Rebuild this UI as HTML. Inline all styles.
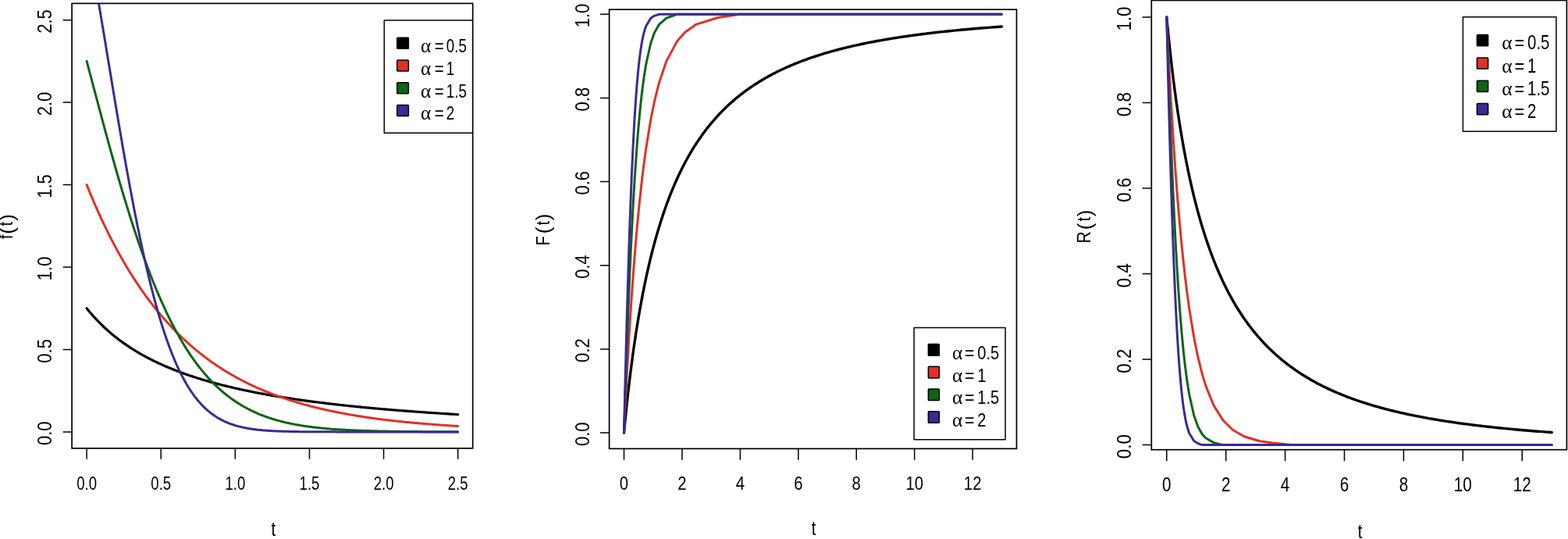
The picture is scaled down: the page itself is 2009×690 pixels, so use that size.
<!DOCTYPE html>
<html lang="en"><head><meta charset="utf-8"><title>f(t), F(t), R(t)</title>
<style>html,body{margin:0;padding:0;background:#fff;overflow:hidden}svg{display:block}text{font-family:'Liberation Sans', 'DejaVu Sans', sans-serif;fill:#000;white-space:pre}</style>
</head><body>
<svg width="2009" height="690" viewBox="0 0 2009 690">
<rect width="2009" height="690" fill="#fff"/>
<g>
<clipPath id="c1"><rect x="92.1" y="4.4" width="513.6" height="569.5"/></clipPath>
<g clip-path="url(#c1)" fill="none" stroke-linejoin="round" stroke-linecap="round">
<polyline stroke="#000000" stroke-width="3.2" points="111.1,394.72 112.93,396.98 114.76,399.18 116.59,401.32 118.42,403.41 120.25,405.46 122.08,407.45 123.9,409.4 125.73,411.3 127.56,413.16 129.39,414.98 131.22,416.76 133.05,418.5 134.88,420.21 136.71,421.87 138.54,423.5 140.37,425.1 142.2,426.66 144.03,428.19 145.86,429.69 147.68,431.16 149.51,432.6 151.34,434.01 153.17,435.4 155,436.76 156.83,438.09 158.66,439.39 160.49,440.67 162.32,441.93 164.15,443.16 165.98,444.38 167.81,445.56 169.64,446.73 171.46,447.88 173.29,449.01 175.12,450.11 176.95,451.2 178.78,452.27 180.61,453.32 182.44,454.35 184.27,455.37 186.1,456.36 187.93,457.34 189.76,458.31 191.59,459.26 193.42,460.19 195.24,461.11 197.07,462.01 198.9,462.9 200.73,463.78 202.56,464.64 204.39,465.49 206.22,466.32 208.05,467.15 209.88,467.96 211.71,468.75 213.54,469.54 215.37,470.31 217.2,471.08 219.02,471.83 220.85,472.57 222.68,473.3 224.51,474.02 226.34,474.72 228.17,475.42 230,476.11 231.83,476.79 233.66,477.46 235.49,478.12 237.32,478.77 239.15,479.41 240.98,480.05 242.8,480.67 244.63,481.29 246.46,481.89 248.29,482.49 250.12,483.09 251.95,483.67 253.78,484.25 255.61,484.81 257.44,485.38 259.27,485.93 261.1,486.48 262.93,487.02 264.76,487.55 266.58,488.08 268.41,488.6 270.24,489.11 272.07,489.62 273.9,490.12 275.73,490.61 277.56,491.1 279.39,491.59 281.22,492.06 283.05,492.53 284.88,493 286.71,493.46 288.54,493.91 290.36,494.36 292.19,494.81 294.02,495.25 295.85,495.68 297.68,496.11 299.51,496.53 301.34,496.95 303.17,497.37 305,497.78 306.83,498.18 308.66,498.58 310.49,498.98 312.32,499.37 314.14,499.76 315.97,500.14 317.8,500.52 319.63,500.89 321.46,501.26 323.29,501.63 325.12,501.99 326.95,502.35 328.78,502.7 330.61,503.06 332.44,503.4 334.27,503.75 336.1,504.09 337.92,504.42 339.75,504.76 341.58,505.09 343.41,505.41 345.24,505.73 347.07,506.05 348.9,506.37 350.73,506.68 352.56,506.99 354.39,507.3 356.22,507.6 358.05,507.9 359.88,508.2 361.7,508.5 363.53,508.79 365.36,509.08 367.19,509.36 369.02,509.65 370.85,509.93 372.68,510.2 374.51,510.48 376.34,510.75 378.17,511.02 380,511.29 381.83,511.55 383.66,511.82 385.48,512.08 387.31,512.33 389.14,512.59 390.97,512.84 392.8,513.09 394.63,513.34 396.46,513.59 398.29,513.83 400.12,514.07 401.95,514.31 403.78,514.55 405.61,514.78 407.44,515.01 409.26,515.24 411.09,515.47 412.92,515.7 414.75,515.92 416.58,516.14 418.41,516.36 420.24,516.58 422.07,516.8 423.9,517.01 425.73,517.23 427.56,517.44 429.39,517.65 431.22,517.85 433.04,518.06 434.87,518.26 436.7,518.47 438.53,518.67 440.36,518.86 442.19,519.06 444.02,519.26 445.85,519.45 447.68,519.64 449.51,519.83 451.34,520.02 453.17,520.21 455,520.39 456.82,520.58 458.65,520.76 460.48,520.94 462.31,521.12 464.14,521.3 465.97,521.48 467.8,521.65 469.63,521.82 471.46,522 473.29,522.17 475.12,522.34 476.95,522.51 478.78,522.67 480.6,522.84 482.43,523 484.26,523.17 486.09,523.33 487.92,523.49 489.75,523.65 491.58,523.81 493.41,523.96 495.24,524.12 497.07,524.27 498.9,524.43 500.73,524.58 502.56,524.73 504.38,524.88 506.21,525.03 508.04,525.17 509.87,525.32 511.7,525.46 513.53,525.61 515.36,525.75 517.19,525.89 519.02,526.03 520.85,526.17 522.68,526.31 524.51,526.45 526.34,526.59 528.16,526.72 529.99,526.86 531.82,526.99 533.65,527.12 535.48,527.26 537.31,527.39 539.14,527.52 540.97,527.65 542.8,527.77 544.63,527.9 546.46,528.03 548.29,528.15 550.12,528.28 551.94,528.4 553.77,528.52 555.6,528.64 557.43,528.76 559.26,528.88 561.09,529 562.92,529.12 564.75,529.24 566.58,529.36 568.41,529.47 570.24,529.59 572.07,529.7 573.9,529.81 575.72,529.93 577.55,530.04 579.38,530.15 581.21,530.26 583.04,530.37 584.87,530.48 586.7,530.59"/>
<polyline stroke="#E03127" stroke-width="3" points="111.1,236.55 112.93,241.08 114.76,245.55 116.59,249.95 118.42,254.28 120.25,258.56 122.08,262.78 123.9,266.93 125.73,271.02 127.56,275.06 129.39,279.04 131.22,282.96 133.05,286.83 134.88,290.64 136.71,294.39 138.54,298.09 140.37,301.74 142.2,305.34 144.03,308.88 145.86,312.38 147.68,315.82 149.51,319.22 151.34,322.56 153.17,325.86 155,329.11 156.83,332.32 158.66,335.48 160.49,338.59 162.32,341.66 164.15,344.68 165.98,347.66 167.81,350.6 169.64,353.5 171.46,356.36 173.29,359.17 175.12,361.94 176.95,364.68 178.78,367.37 180.61,370.03 182.44,372.65 184.27,375.23 186.1,377.77 187.93,380.28 189.76,382.75 191.59,385.19 193.42,387.59 195.24,389.96 197.07,392.29 198.9,394.59 200.73,396.86 202.56,399.09 204.39,401.3 206.22,403.47 208.05,405.61 209.88,407.72 211.71,409.79 213.54,411.84 215.37,413.86 217.2,415.85 219.02,417.82 220.85,419.75 222.68,421.66 224.51,423.54 226.34,425.39 228.17,427.22 230,429.02 231.83,430.79 233.66,432.54 235.49,434.26 237.32,435.96 239.15,437.64 240.98,439.29 242.8,440.91 244.63,442.52 246.46,444.1 248.29,445.65 250.12,447.19 251.95,448.7 253.78,450.2 255.61,451.67 257.44,453.12 259.27,454.55 261.1,455.95 262.93,457.34 264.76,458.71 266.58,460.06 268.41,461.39 270.24,462.7 272.07,463.99 273.9,465.26 275.73,466.52 277.56,467.76 279.39,468.97 281.22,470.18 283.05,471.36 284.88,472.53 286.71,473.68 288.54,474.81 290.36,475.93 292.19,477.03 294.02,478.12 295.85,479.19 297.68,480.25 299.51,481.29 301.34,482.31 303.17,483.32 305,484.32 306.83,485.3 308.66,486.27 310.49,487.22 312.32,488.16 314.14,489.09 315.97,490.01 317.8,490.91 319.63,491.79 321.46,492.67 323.29,493.53 325.12,494.38 326.95,495.22 328.78,496.05 330.61,496.86 332.44,497.66 334.27,498.45 336.1,499.23 337.92,500 339.75,500.76 341.58,501.5 343.41,502.24 345.24,502.97 347.07,503.68 348.9,504.39 350.73,505.08 352.56,505.77 354.39,506.44 356.22,507.11 358.05,507.76 359.88,508.41 361.7,509.05 363.53,509.67 365.36,510.29 367.19,510.9 369.02,511.5 370.85,512.1 372.68,512.68 374.51,513.26 376.34,513.82 378.17,514.38 380,514.94 381.83,515.48 383.66,516.01 385.48,516.54 387.31,517.06 389.14,517.58 390.97,518.08 392.8,518.58 394.63,519.07 396.46,519.56 398.29,520.03 400.12,520.51 401.95,520.97 403.78,521.43 405.61,521.88 407.44,522.32 409.26,522.76 411.09,523.19 412.92,523.62 414.75,524.04 416.58,524.45 418.41,524.86 420.24,525.26 422.07,525.65 423.9,526.04 425.73,526.43 427.56,526.81 429.39,527.18 431.22,527.55 433.04,527.91 434.87,528.27 436.7,528.62 438.53,528.97 440.36,529.31 442.19,529.65 444.02,529.98 445.85,530.31 447.68,530.64 449.51,530.95 451.34,531.27 453.17,531.58 455,531.88 456.82,532.18 458.65,532.48 460.48,532.77 462.31,533.06 464.14,533.35 465.97,533.63 467.8,533.9 469.63,534.17 471.46,534.44 473.29,534.71 475.12,534.97 476.95,535.22 478.78,535.48 480.6,535.73 482.43,535.97 484.26,536.21 486.09,536.45 487.92,536.69 489.75,536.92 491.58,537.15 493.41,537.38 495.24,537.6 497.07,537.82 498.9,538.03 500.73,538.25 502.56,538.46 504.38,538.66 506.21,538.87 508.04,539.07 509.87,539.27 511.7,539.46 513.53,539.65 515.36,539.84 517.19,540.03 519.02,540.21 520.85,540.4 522.68,540.57 524.51,540.75 526.34,540.93 528.16,541.1 529.99,541.27 531.82,541.43 533.65,541.6 535.48,541.76 537.31,541.92 539.14,542.08 540.97,542.23 542.8,542.38 544.63,542.53 546.46,542.68 548.29,542.83 550.12,542.97 551.94,543.11 553.77,543.25 555.6,543.39 557.43,543.53 559.26,543.66 561.09,543.8 562.92,543.93 564.75,544.05 566.58,544.18 568.41,544.31 570.24,544.43 572.07,544.55 573.9,544.67 575.72,544.79 577.55,544.9 579.38,545.02 581.21,545.13 583.04,545.24 584.87,545.35 586.7,545.46"/>
<polyline stroke="#0A6515" stroke-width="3" points="111.1,78.37 112.93,85.23 114.76,92.1 116.59,98.99 118.42,105.89 120.25,112.79 122.08,119.68 123.9,126.57 125.73,133.45 127.56,140.32 129.39,147.16 131.22,153.98 133.05,160.77 134.88,167.53 136.71,174.26 138.54,180.95 140.37,187.6 142.2,194.21 144.03,200.76 145.86,207.27 147.68,213.73 149.51,220.13 151.34,226.48 153.17,232.77 155,239 156.83,245.16 158.66,251.27 160.49,257.3 162.32,263.27 164.15,269.18 165.98,275.01 167.81,280.77 169.64,286.46 171.46,292.08 173.29,297.62 175.12,303.09 176.95,308.49 178.78,313.81 180.61,319.05 182.44,324.22 184.27,329.31 186.1,334.32 187.93,339.26 189.76,344.12 191.59,348.9 193.42,353.6 195.24,358.23 197.07,362.78 198.9,367.25 200.73,371.65 202.56,375.96 204.39,380.21 206.22,384.37 208.05,388.47 209.88,392.48 211.71,396.42 213.54,400.29 215.37,404.08 217.2,407.8 219.02,411.45 220.85,415.03 222.68,418.53 224.51,421.97 226.34,425.33 228.17,428.63 230,431.86 231.83,435.02 233.66,438.11 235.49,441.14 237.32,444.11 239.15,447.01 240.98,449.84 242.8,452.62 244.63,455.33 246.46,457.98 248.29,460.57 250.12,463.1 251.95,465.58 253.78,468 255.61,470.36 257.44,472.66 259.27,474.92 261.1,477.12 262.93,479.26 264.76,481.36 266.58,483.4 268.41,485.39 270.24,487.34 272.07,489.23 273.9,491.08 275.73,492.88 277.56,494.64 279.39,496.35 281.22,498.02 283.05,499.65 284.88,501.23 286.71,502.78 288.54,504.28 290.36,505.74 292.19,507.17 294.02,508.56 295.85,509.91 297.68,511.22 299.51,512.5 301.34,513.74 303.17,514.95 305,516.13 306.83,517.27 308.66,518.38 310.49,519.47 312.32,520.52 314.14,521.54 315.97,522.53 317.8,523.5 319.63,524.43 321.46,525.34 323.29,526.23 325.12,527.09 326.95,527.92 328.78,528.73 330.61,529.52 332.44,530.28 334.27,531.02 336.1,531.74 337.92,532.44 339.75,533.11 341.58,533.77 343.41,534.4 345.24,535.02 347.07,535.62 348.9,536.2 350.73,536.76 352.56,537.3 354.39,537.83 356.22,538.34 358.05,538.84 359.88,539.32 361.7,539.78 363.53,540.24 365.36,540.67 367.19,541.09 369.02,541.5 370.85,541.9 372.68,542.28 374.51,542.65 376.34,543.01 378.17,543.36 380,543.7 381.83,544.02 383.66,544.33 385.48,544.64 387.31,544.93 389.14,545.22 390.97,545.49 392.8,545.76 394.63,546.01 396.46,546.26 398.29,546.5 400.12,546.74 401.95,546.96 403.78,547.18 405.61,547.38 407.44,547.59 409.26,547.78 411.09,547.97 412.92,548.15 414.75,548.33 416.58,548.5 418.41,548.66 420.24,548.82 422.07,548.97 423.9,549.12 425.73,549.26 427.56,549.4 429.39,549.53 431.22,549.66 433.04,549.78 434.87,549.9 436.7,550.01 438.53,550.12 440.36,550.23 442.19,550.33 444.02,550.43 445.85,550.52 447.68,550.62 449.51,550.7 451.34,550.79 453.17,550.87 455,550.95 456.82,551.03 458.65,551.1 460.48,551.17 462.31,551.24 464.14,551.3 465.97,551.37 467.8,551.43 469.63,551.49 471.46,551.54 473.29,551.6 475.12,551.65 476.95,551.7 478.78,551.75 480.6,551.79 482.43,551.84 484.26,551.88 486.09,551.92 487.92,551.96 489.75,552 491.58,552.03 493.41,552.07 495.24,552.1 497.07,552.14 498.9,552.17 500.73,552.2 502.56,552.23 504.38,552.25 506.21,552.28 508.04,552.31 509.87,552.33 511.7,552.35 513.53,552.38 515.36,552.4 517.19,552.42 519.02,552.44 520.85,552.46 522.68,552.48 524.51,552.5 526.34,552.51 528.16,552.53 529.99,552.54 531.82,552.56 533.65,552.57 535.48,552.59 537.31,552.6 539.14,552.61 540.97,552.63 542.8,552.64 544.63,552.65 546.46,552.66 548.29,552.67 550.12,552.68 551.94,552.69 553.77,552.7 555.6,552.71 557.43,552.72 559.26,552.72 561.09,552.73 562.92,552.74 564.75,552.75 566.58,552.75 568.41,552.76 570.24,552.77 572.07,552.77 573.9,552.78 575.72,552.78 577.55,552.79 579.38,552.79 581.21,552.8 583.04,552.8 584.87,552.81 586.7,552.81"/>
<polyline stroke="#3B2A94" stroke-width="3" points="111.1,-79.8 112.93,-70.55 114.76,-61.05 116.59,-51.32 118.42,-41.39 120.25,-31.27 122.08,-20.98 123.9,-10.54 125.73,0.04 127.56,10.73 129.39,21.53 131.22,32.41 133.05,43.36 134.88,54.36 136.71,65.4 138.54,76.46 140.37,87.53 142.2,98.59 144.03,109.63 145.86,120.65 147.68,131.61 149.51,142.53 151.34,153.37 153.17,164.14 155,174.82 156.83,185.4 158.66,195.87 160.49,206.22 162.32,216.46 164.15,226.56 165.98,236.52 167.81,246.34 169.64,256 171.46,265.51 173.29,274.85 175.12,284.03 176.95,293.04 178.78,301.87 180.61,310.53 182.44,319 184.27,327.3 186.1,335.4 187.93,343.32 189.76,351.05 191.59,358.59 193.42,365.95 195.24,373.11 197.07,380.08 198.9,386.87 200.73,393.46 202.56,399.87 204.39,406.09 206.22,412.13 208.05,417.99 209.88,423.66 211.71,429.16 213.54,434.47 215.37,439.62 217.2,444.59 219.02,449.39 220.85,454.03 222.68,458.5 224.51,462.82 226.34,466.98 228.17,470.98 230,474.84 231.83,478.55 233.66,482.11 235.49,485.54 237.32,488.83 239.15,491.99 240.98,495.02 242.8,497.93 244.63,500.71 246.46,503.37 248.29,505.93 250.12,508.37 251.95,510.7 253.78,512.93 255.61,515.06 257.44,517.09 259.27,519.03 261.1,520.88 262.93,522.64 264.76,524.32 266.58,525.92 268.41,527.43 270.24,528.88 272.07,530.25 273.9,531.56 275.73,532.8 277.56,533.97 279.39,535.09 281.22,536.14 283.05,537.14 284.88,538.09 286.71,538.99 288.54,539.84 290.36,540.64 292.19,541.4 294.02,542.12 295.85,542.79 297.68,543.43 299.51,544.03 301.34,544.6 303.17,545.13 305,545.64 306.83,546.11 308.66,546.56 310.49,546.98 312.32,547.37 314.14,547.74 315.97,548.09 317.8,548.41 319.63,548.72 321.46,549.01 323.29,549.27 325.12,549.53 326.95,549.76 328.78,549.98 330.61,550.19 332.44,550.38 334.27,550.56 336.1,550.73 337.92,550.89 339.75,551.03 341.58,551.17 343.41,551.3 345.24,551.42 347.07,551.53 348.9,551.63 350.73,551.72 352.56,551.81 354.39,551.9 356.22,551.97 358.05,552.04 359.88,552.11 361.7,552.17 363.53,552.23 365.36,552.28 367.19,552.33 369.02,552.37 370.85,552.42 372.68,552.45 374.51,552.49 376.34,552.52 378.17,552.55 380,552.58 381.83,552.61 383.66,552.63 385.48,552.65 387.31,552.68 389.14,552.69 390.97,552.71 392.8,552.73 394.63,552.74 396.46,552.76 398.29,552.77 400.12,552.78 401.95,552.79 403.78,552.8 405.61,552.81 407.44,552.82 409.26,552.82 411.09,552.83 412.92,552.84 414.75,552.84 416.58,552.85 418.41,552.85 420.24,552.86 422.07,552.86 423.9,552.86 425.73,552.87 427.56,552.87 429.39,552.87 431.22,552.88 433.04,552.88 434.87,552.88 436.7,552.88 438.53,552.88 440.36,552.89 442.19,552.89 444.02,552.89 445.85,552.89 447.68,552.89 449.51,552.89 451.34,552.89 453.17,552.89 455,552.89 456.82,552.89 458.65,552.89 460.48,552.9 462.31,552.9 464.14,552.9 465.97,552.9 467.8,552.9 469.63,552.9 471.46,552.9 473.29,552.9 475.12,552.9 476.95,552.9 478.78,552.9 480.6,552.9 482.43,552.9 484.26,552.9 486.09,552.9 487.92,552.9 489.75,552.9 491.58,552.9 493.41,552.9 495.24,552.9 497.07,552.9 498.9,552.9 500.73,552.9 502.56,552.9 504.38,552.9 506.21,552.9 508.04,552.9 509.87,552.9 511.7,552.9 513.53,552.9 515.36,552.9 517.19,552.9 519.02,552.9 520.85,552.9 522.68,552.9 524.51,552.9 526.34,552.9 528.16,552.9 529.99,552.9 531.82,552.9 533.65,552.9 535.48,552.9 537.31,552.9 539.14,552.9 540.97,552.9 542.8,552.9 544.63,552.9 546.46,552.9 548.29,552.9 550.12,552.9 551.94,552.9 553.77,552.9 555.6,552.9 557.43,552.9 559.26,552.9 561.09,552.9 562.92,552.9 564.75,552.9 566.58,552.9 568.41,552.9 570.24,552.9 572.07,552.9 573.9,552.9 575.72,552.9 577.55,552.9 579.38,552.9 581.21,552.9 583.04,552.9 584.87,552.9 586.7,552.9"/>
<rect x="492.3" y="25.9" width="120" height="144.3" fill="#fff" stroke="#000" stroke-width="1.5"/>
</g>
<rect x="508.8" y="48.2" width="14.6" height="14" rx="0.8" fill="#000000" stroke="#000" stroke-width="1.5"/>
<text y="66.9" font-size="24.5"><tspan x="539.09" font-family="'Liberation Serif', 'DejaVu Serif', serif" font-size="25.2">α </tspan><tspan x="556.77" textLength="17.74" lengthAdjust="spacingAndGlyphs">= </tspan><tspan x="571.75" textLength="26.22" lengthAdjust="spacingAndGlyphs">0.5</tspan></text>
<rect x="508.8" y="77" width="14.6" height="14" rx="0.8" fill="#E03127" stroke="#000" stroke-width="1.5"/>
<text y="95.7" font-size="24.5"><tspan x="539.09" font-family="'Liberation Serif', 'DejaVu Serif', serif" font-size="25.2">α </tspan><tspan x="556.77" textLength="17.74" lengthAdjust="spacingAndGlyphs">= </tspan><tspan x="571.75" textLength="10.49" lengthAdjust="spacingAndGlyphs">1</tspan></text>
<rect x="508.8" y="105.8" width="14.6" height="14" rx="0.8" fill="#0A6515" stroke="#000" stroke-width="1.5"/>
<text y="124.5" font-size="24.5"><tspan x="539.09" font-family="'Liberation Serif', 'DejaVu Serif', serif" font-size="25.2">α </tspan><tspan x="556.77" textLength="17.74" lengthAdjust="spacingAndGlyphs">= </tspan><tspan x="571.75" textLength="26.22" lengthAdjust="spacingAndGlyphs">1.5</tspan></text>
<rect x="508.8" y="134.6" width="14.6" height="14" rx="0.8" fill="#3B2A94" stroke="#000" stroke-width="1.5"/>
<text y="153.3" font-size="24.5"><tspan x="539.09" font-family="'Liberation Serif', 'DejaVu Serif', serif" font-size="25.2">α </tspan><tspan x="556.77" textLength="17.74" lengthAdjust="spacingAndGlyphs">= </tspan><tspan x="571.75" textLength="10.49" lengthAdjust="spacingAndGlyphs">2</tspan></text>
<rect x="92.1" y="4.4" width="513.6" height="569.5" fill="none" stroke="#000" stroke-width="1.7"/>
<path d="M111.1 573.9v13.8M206.22 573.9v13.8M301.34 573.9v13.8M396.46 573.9v13.8M491.58 573.9v13.8M586.7 573.9v13.8M92.1 552.9h-11.4M92.1 447.45h-11.4M92.1 342h-11.4M92.1 236.55h-11.4M92.1 131.1h-11.4M92.1 25.65h-11.4" fill="none" stroke="#000" stroke-width="1.5"/>
<text transform="translate(111.1 627) scale(0.7650 1)" font-size="24.3" text-anchor="middle">0.0</text>
<text transform="translate(206.22 627) scale(0.7650 1)" font-size="24.3" text-anchor="middle">0.5</text>
<text transform="translate(301.34 627) scale(0.7650 1)" font-size="24.3" text-anchor="middle">1.0</text>
<text transform="translate(396.46 627) scale(0.7650 1)" font-size="24.3" text-anchor="middle">1.5</text>
<text transform="translate(491.58 627) scale(0.7650 1)" font-size="24.3" text-anchor="middle">2.0</text>
<text transform="translate(586.7 627) scale(0.7650 1)" font-size="24.3" text-anchor="middle">2.5</text>
<text transform="translate(66.3 554.8) rotate(-90) scale(0.8700 1)" font-size="25.3" text-anchor="middle">0.0</text>
<text transform="translate(66.3 449.35) rotate(-90) scale(0.8700 1)" font-size="25.3" text-anchor="middle">0.5</text>
<text transform="translate(66.3 343.9) rotate(-90) scale(0.8700 1)" font-size="25.3" text-anchor="middle">1.0</text>
<text transform="translate(66.3 238.45) rotate(-90) scale(0.8700 1)" font-size="25.3" text-anchor="middle">1.5</text>
<text transform="translate(66.3 133) rotate(-90) scale(0.8700 1)" font-size="25.3" text-anchor="middle">2.0</text>
<text transform="translate(66.3 27.55) rotate(-90) scale(0.8700 1)" font-size="25.3" text-anchor="middle">2.5</text>
<text transform="translate(350.3 685.8) scale(0.7800 1)" font-size="26" text-anchor="middle">t</text>
<text transform="translate(16.2 305.8) rotate(-90)"><tspan x="-0.29" y="0" font-size="24.5" textLength="5.45" lengthAdjust="spacingAndGlyphs">f</tspan><tspan x="6.14" y="1.5" font-size="26">(</tspan><tspan x="16.51" y="0" font-size="24.5" textLength="5.45" lengthAdjust="spacingAndGlyphs">t</tspan><tspan x="23.14" y="1.5" font-size="26">)</tspan></text>
</g>
<g>
<clipPath id="c2"><rect x="780.6" y="12.2" width="521.9" height="562.2"/></clipPath>
<g clip-path="url(#c2)" fill="none" stroke-linejoin="round" stroke-linecap="round">
<polyline stroke="#000000" stroke-width="3.4" points="799.5,554.1 799.57,553.39 799.7,551.94 799.88,549.99 800.11,547.61 800.37,544.88 800.66,541.82 800.99,538.49 801.34,534.9 801.73,531.09 802.13,527.08 802.57,522.88 803.03,518.52 803.51,514.01 804.01,509.38 804.54,504.63 805.09,499.77 805.66,494.83 806.25,489.81 806.86,484.73 807.49,479.59 808.14,474.4 808.8,469.17 809.49,463.92 810.19,458.64 810.91,453.34 811.65,448.04 812.41,442.73 813.18,437.43 813.97,432.13 814.78,426.85 815.6,421.58 816.44,416.33 817.3,411.1 818.17,405.9 819.06,400.74 819.96,395.6 820.87,390.5 821.81,385.44 822.75,380.42 823.71,375.44 824.69,370.5 825.68,365.61 826.68,360.76 827.7,355.97 828.73,351.22 829.78,346.52 830.84,341.87 831.92,337.27 833,332.72 834.1,328.23 835.22,323.78 836.34,319.39 837.48,315.06 838.64,310.77 839.8,306.54 840.98,302.37 842.17,298.24 843.38,294.17 844.59,290.15 845.82,286.19 847.07,282.28 848.32,278.42 849.58,274.61 850.86,270.85 852.15,267.15 853.46,263.5 854.77,259.9 856.09,256.34 857.43,252.84 858.78,249.39 860.14,245.99 861.51,242.63 862.9,239.33 864.29,236.07 865.7,232.86 867.12,229.69 868.55,226.57 869.99,223.5 871.44,220.47 872.9,217.49 874.38,214.55 875.86,211.65 877.36,208.8 878.86,205.99 880.38,203.22 881.91,200.49 883.44,197.8 884.99,195.16 886.55,192.55 888.12,189.98 889.7,187.45 891.3,184.96 892.9,182.5 894.51,180.09 896.13,177.7 897.76,175.36 899.41,173.05 901.06,170.77 902.72,168.53 904.4,166.33 906.08,164.16 907.77,162.02 909.48,159.91 911.19,157.83 912.91,155.79 914.65,153.77 916.39,151.79 918.14,149.84 919.91,147.92 921.68,146.02 923.46,144.16 925.25,142.32 927.05,140.51 928.86,138.73 930.68,136.98 932.51,135.25 934.35,133.55 936.2,131.87 938.06,130.22 939.93,128.6 941.8,127 943.69,125.42 945.59,123.87 947.49,122.34 949.41,120.84 951.33,119.35 953.26,117.89 955.2,116.45 957.15,115.04 959.11,113.64 961.08,112.27 963.06,110.92 965.05,109.58 967.04,108.27 969.05,106.98 971.06,105.7 973.09,104.45 975.12,103.22 977.16,102 979.21,100.8 981.27,99.62 983.33,98.46 985.41,97.31 987.49,96.18 989.59,95.07 991.69,93.98 993.8,92.9 995.92,91.84 998.05,90.79 1000.18,89.76 1002.33,88.75 1004.48,87.75 1006.64,86.76 1008.81,85.79 1010.99,84.84 1013.18,83.9 1015.37,82.97 1017.58,82.06 1019.79,81.16 1022.01,80.27 1024.24,79.4 1026.48,78.53 1028.73,77.69 1030.98,76.85 1033.24,76.03 1035.51,75.22 1037.79,74.42 1040.08,73.63 1042.37,72.86 1044.68,72.09 1046.99,71.34 1049.31,70.6 1051.64,69.87 1053.97,69.15 1056.32,68.44 1058.67,67.74 1061.03,67.05 1063.4,66.37 1065.77,65.7 1068.16,65.04 1070.55,64.4 1072.95,63.76 1075.36,63.13 1077.77,62.5 1080.2,61.89 1082.63,61.29 1085.07,60.69 1087.51,60.11 1089.97,59.53 1092.43,58.96 1094.9,58.4 1097.38,57.85 1099.87,57.3 1102.36,56.77 1104.86,56.24 1107.37,55.72 1109.89,55.2 1112.42,54.7 1114.95,54.2 1117.49,53.71 1120.04,53.22 1122.59,52.74 1125.15,52.27 1127.72,51.81 1130.3,51.35 1132.89,50.9 1135.48,50.46 1138.08,50.02 1140.69,49.59 1143.31,49.16 1145.93,48.74 1148.56,48.33 1151.2,47.92 1153.84,47.52 1156.5,47.12 1159.16,46.73 1161.82,46.35 1164.5,45.97 1167.18,45.59 1169.87,45.22 1172.57,44.86 1175.27,44.5 1177.99,44.15 1180.71,43.8 1183.43,43.46 1186.17,43.12 1188.91,42.78 1191.66,42.45 1194.41,42.13 1197.17,41.81 1199.94,41.49 1202.72,41.18 1205.51,40.88 1208.3,40.57 1211.1,40.28 1213.9,39.98 1216.71,39.69 1219.54,39.41 1222.36,39.13 1225.2,38.85 1228.04,38.57 1230.89,38.3 1233.74,38.04 1236.61,37.78 1239.48,37.52 1242.35,37.26 1245.24,37.01 1248.13,36.76 1251.02,36.52 1253.93,36.28 1256.84,36.04 1259.76,35.8 1262.69,35.57 1265.62,35.34 1268.56,35.12 1271.5,34.9 1274.46,34.68 1277.42,34.46 1280.39,34.25 1283.36,34.04"/>
<polyline stroke="#E03127" stroke-width="3" points="799.5,554.1 799.93,544.81 800.37,535.67 800.8,526.7 801.24,517.88 801.67,509.21 802.11,500.69 802.54,492.33 802.97,484.1 803.41,476.02 803.84,468.08 804.28,460.28 804.71,452.61 805.15,445.08 805.58,437.67 806.01,430.4 806.45,423.25 806.88,416.22 807.32,409.32 807.75,402.54 808.18,395.87 808.62,389.32 809.05,382.89 809.49,376.56 809.92,370.35 810.36,364.24 810.79,358.24 811.22,352.34 811.66,346.55 812.09,340.85 812.53,335.26 812.96,329.76 813.4,324.35 813.83,319.04 814.26,313.83 814.7,308.7 815.13,303.66 815.57,298.71 816,293.85 816.44,289.07 816.87,284.37 817.3,279.75 817.74,275.22 818.17,270.76 818.61,266.38 819.04,262.08 819.47,257.85 819.91,253.69 820.34,249.61 820.78,245.6 821.21,241.65 821.65,237.78 822.08,233.97 822.51,230.23 822.95,226.55 823.38,222.94 823.82,219.39 824.25,215.9 824.69,212.48 825.12,209.11 825.55,205.8 827.79,189.66 833.89,152.29 838.28,130.55 844.16,106.87 853.92,78.09 867.39,53.04 877.4,41.5 892.18,31.09 919.98,22.47 947.82,18.3 978.16,18.3 1022.82,18.3 1097.26,18.3 1283.36,18.3"/>
<polyline stroke="#0A6515" stroke-width="3" points="799.5,554.1 799.93,540.16 800.37,526.46 800.8,513.02 801.24,499.82 801.67,486.87 802.11,474.16 802.54,461.71 802.97,449.5 803.41,437.54 803.84,425.82 804.28,414.35 804.71,403.11 805.15,392.12 805.58,381.37 806.01,370.85 806.45,360.57 806.88,350.52 807.32,340.7 807.75,331.11 808.18,321.75 808.62,312.6 809.05,303.68 809.49,294.97 809.92,286.47 810.36,278.19 810.79,270.11 811.22,262.24 811.66,254.57 812.09,247.1 812.53,239.82 812.96,232.74 813.4,225.84 813.83,219.13 814.26,212.6 814.7,206.24 815.13,200.07 815.57,194.06 816,188.22 816.44,182.55 816.87,177.03 817.3,171.68 817.74,166.48 818.17,161.43 818.61,156.53 819.04,151.78 819.47,147.16 819.91,142.69 820.34,138.34 820.78,134.14 821.21,130.06 821.65,126.1 822.08,122.27 822.51,118.56 822.95,114.96 823.38,111.48 823.82,108.11 824.25,104.84 824.69,101.68 825.12,98.63 825.55,95.67 827.79,81.94 833.89,54.83 838.28,42.36 844.16,31.74 853.92,23.15 867.39,18.3 877.4,18.3 892.18,18.3 919.98,18.3 947.82,18.3 978.16,18.3 1022.82,18.3 1097.26,18.3 1283.36,18.3"/>
<polyline stroke="#3B2A94" stroke-width="3" points="799.5,554.1 799.93,535.51 800.37,517.27 800.8,499.37 801.24,481.83 801.67,464.65 802.11,447.85 802.54,431.43 802.97,415.39 803.41,399.74 803.84,384.48 804.28,369.62 804.71,355.16 805.15,341.09 805.58,327.42 806.01,314.15 806.45,301.28 806.88,288.8 807.32,276.71 807.75,265.01 808.18,253.69 808.62,242.76 809.05,232.21 809.49,222.02 809.92,212.2 810.36,202.75 810.79,193.64 811.22,184.88 811.66,176.47 812.09,168.39 812.53,160.63 812.96,153.19 813.4,146.06 813.83,139.24 814.26,132.7 814.7,126.46 815.13,120.49 815.57,114.8 816,109.36 816.44,104.18 816.87,99.24 817.3,94.55 817.74,90.07 818.17,85.83 818.61,81.79 819.04,77.96 819.47,74.32 819.91,70.88 820.34,67.61 820.78,64.52 821.21,61.6 821.65,58.84 822.08,56.23 822.51,53.76 822.95,51.44 823.38,49.25 823.82,47.19 824.25,45.24 824.69,43.42 825.12,41.7 825.55,40.09 827.79,33.24 833.89,23.21 838.28,20.34 844.16,18.3 853.92,18.3 867.39,18.3 877.4,18.3 892.18,18.3 919.98,18.3 947.82,18.3 978.16,18.3 1022.82,18.3 1097.26,18.3 1283.36,18.3"/>
<rect x="1171.1" y="419.4" width="117" height="143.3" fill="#fff" stroke="#000" stroke-width="1.5"/>
</g>
<rect x="1189.4" y="440.6" width="14" height="14.6" rx="0.8" fill="#000000" stroke="#000" stroke-width="1.5"/>
<text y="460" font-size="24.8"><tspan x="1220.08" font-family="'Liberation Serif', 'DejaVu Serif', serif" font-size="25.4">α </tspan><tspan x="1236.03" textLength="18.38" lengthAdjust="spacingAndGlyphs">= </tspan><tspan x="1252.3" textLength="27.92" lengthAdjust="spacingAndGlyphs">0.5</tspan></text>
<rect x="1189.4" y="469.3" width="14" height="14.6" rx="0.8" fill="#E03127" stroke="#000" stroke-width="1.5"/>
<text y="488.7" font-size="24.8"><tspan x="1220.08" font-family="'Liberation Serif', 'DejaVu Serif', serif" font-size="25.4">α </tspan><tspan x="1236.03" textLength="18.38" lengthAdjust="spacingAndGlyphs">= </tspan><tspan x="1252.3" textLength="11.17" lengthAdjust="spacingAndGlyphs">1</tspan></text>
<rect x="1189.4" y="498" width="14" height="14.6" rx="0.8" fill="#0A6515" stroke="#000" stroke-width="1.5"/>
<text y="517.4" font-size="24.8"><tspan x="1220.08" font-family="'Liberation Serif', 'DejaVu Serif', serif" font-size="25.4">α </tspan><tspan x="1236.03" textLength="18.38" lengthAdjust="spacingAndGlyphs">= </tspan><tspan x="1252.3" textLength="27.92" lengthAdjust="spacingAndGlyphs">1.5</tspan></text>
<rect x="1189.4" y="526.7" width="14" height="14.6" rx="0.8" fill="#3B2A94" stroke="#000" stroke-width="1.5"/>
<text y="546.1" font-size="24.8"><tspan x="1220.08" font-family="'Liberation Serif', 'DejaVu Serif', serif" font-size="25.4">α </tspan><tspan x="1236.03" textLength="18.38" lengthAdjust="spacingAndGlyphs">= </tspan><tspan x="1252.3" textLength="11.17" lengthAdjust="spacingAndGlyphs">2</tspan></text>
<rect x="780.6" y="12.2" width="521.9" height="562.2" fill="none" stroke="#000" stroke-width="1.7"/>
<path d="M799.5 574.4v14.3M873.94 574.4v14.3M948.38 574.4v14.3M1022.82 574.4v14.3M1097.26 574.4v14.3M1171.7 574.4v14.3M1246.14 574.4v14.3M780.6 554.1h-11.6M780.6 446.94h-11.6M780.6 339.78h-11.6M780.6 232.62h-11.6M780.6 125.46h-11.6M780.6 18.3h-11.6" fill="none" stroke="#000" stroke-width="1.5"/>
<text transform="translate(799.5 627.4) scale(0.8200 1)" font-size="24.8" text-anchor="middle">0</text>
<text transform="translate(873.94 627.4) scale(0.8200 1)" font-size="24.8" text-anchor="middle">2</text>
<text transform="translate(948.38 627.4) scale(0.8200 1)" font-size="24.8" text-anchor="middle">4</text>
<text transform="translate(1022.82 627.4) scale(0.8200 1)" font-size="24.8" text-anchor="middle">6</text>
<text transform="translate(1097.26 627.4) scale(0.8200 1)" font-size="24.8" text-anchor="middle">8</text>
<text transform="translate(1171.7 627.4) scale(0.8200 1)" font-size="24.8" text-anchor="middle">10</text>
<text transform="translate(1246.14 627.4) scale(0.8200 1)" font-size="24.8" text-anchor="middle">12</text>
<text transform="translate(754.6 555.8) rotate(-90) scale(0.8700 1)" font-size="25.3" text-anchor="middle">0.0</text>
<text transform="translate(754.6 448.64) rotate(-90) scale(0.8700 1)" font-size="25.3" text-anchor="middle">0.2</text>
<text transform="translate(754.6 341.48) rotate(-90) scale(0.8700 1)" font-size="25.3" text-anchor="middle">0.4</text>
<text transform="translate(754.6 234.32) rotate(-90) scale(0.8700 1)" font-size="25.3" text-anchor="middle">0.6</text>
<text transform="translate(754.6 127.16) rotate(-90) scale(0.8700 1)" font-size="25.3" text-anchor="middle">0.8</text>
<text transform="translate(754.6 20) rotate(-90) scale(0.8700 1)" font-size="25.3" text-anchor="middle">1.0</text>
<text transform="translate(1042.6 685) scale(0.7800 1)" font-size="26" text-anchor="middle">t</text>
<text transform="translate(703.9 312.8) rotate(-90)"><tspan x="-1.57" y="0" font-size="24.5" textLength="11.98" lengthAdjust="spacingAndGlyphs">F</tspan><tspan x="13.44" y="1.5" font-size="26">(</tspan><tspan x="24.61" y="0" font-size="24.5" textLength="5.45" lengthAdjust="spacingAndGlyphs">t</tspan><tspan x="30.44" y="1.5" font-size="26">)</tspan></text>
</g>
<g>
<clipPath id="c3"><rect x="1475.3" y="0.45" width="532.1" height="575.25"/></clipPath>
<g clip-path="url(#c3)" fill="none" stroke-linejoin="round" stroke-linecap="round">
<polyline stroke="#000000" stroke-width="3.4" points="1494.8,22 1494.87,22.73 1495,24.2 1495.19,26.2 1495.42,28.63 1495.69,31.43 1495.99,34.55 1496.32,37.95 1496.68,41.62 1497.07,45.52 1497.49,49.62 1497.93,53.91 1498.4,58.37 1498.89,62.97 1499.4,67.71 1499.94,72.56 1500.5,77.52 1501.08,82.57 1501.68,87.7 1502.3,92.9 1502.94,98.15 1503.61,103.46 1504.29,108.8 1504.99,114.17 1505.7,119.56 1506.44,124.98 1507.19,130.4 1507.96,135.82 1508.75,141.24 1509.56,146.66 1510.38,152.06 1511.22,157.44 1512.08,162.81 1512.95,168.15 1513.84,173.46 1514.74,178.74 1515.66,183.99 1516.59,189.2 1517.54,194.38 1518.51,199.51 1519.49,204.6 1520.48,209.64 1521.49,214.64 1522.52,219.59 1523.56,224.5 1524.61,229.35 1525.68,234.16 1526.76,238.91 1527.85,243.61 1528.96,248.25 1530.08,252.85 1531.22,257.39 1532.37,261.88 1533.53,266.31 1534.71,270.69 1535.89,275.01 1537.1,279.28 1538.31,283.49 1539.54,287.65 1540.78,291.76 1542.03,295.81 1543.3,299.81 1544.58,303.75 1545.87,307.65 1547.17,311.48 1548.49,315.27 1549.81,319 1551.15,322.68 1552.5,326.31 1553.87,329.89 1555.24,333.42 1556.63,336.9 1558.03,340.33 1559.44,343.71 1560.86,347.04 1562.3,350.32 1563.74,353.55 1565.2,356.74 1566.67,359.88 1568.15,362.98 1569.64,366.03 1571.14,369.03 1572.66,371.99 1574.18,374.91 1575.72,377.78 1577.26,380.61 1578.82,383.4 1580.39,386.14 1581.97,388.85 1583.56,391.52 1585.16,394.14 1586.77,396.73 1588.4,399.27 1590.03,401.78 1591.67,404.25 1593.33,406.69 1594.99,409.08 1596.67,411.44 1598.35,413.77 1600.05,416.06 1601.75,418.31 1603.47,420.53 1605.2,422.72 1606.93,424.87 1608.68,427 1610.44,429.08 1612.21,431.14 1613.98,433.17 1615.77,435.16 1617.57,437.13 1619.37,439.06 1621.19,440.97 1623.02,442.85 1624.85,444.7 1626.7,446.52 1628.56,448.31 1630.42,450.07 1632.3,451.81 1634.18,453.53 1636.08,455.21 1637.98,456.87 1639.9,458.51 1641.82,460.12 1643.75,461.71 1645.69,463.27 1647.65,464.81 1649.61,466.32 1651.58,467.81 1653.56,469.28 1655.55,470.73 1657.54,472.16 1659.55,473.56 1661.57,474.94 1663.6,476.31 1665.63,477.65 1667.67,478.97 1669.73,480.27 1671.79,481.55 1673.86,482.81 1675.94,484.06 1678.03,485.28 1680.13,486.49 1682.24,487.68 1684.36,488.85 1686.48,490 1688.61,491.14 1690.76,492.25 1692.91,493.36 1695.07,494.44 1697.24,495.51 1699.42,496.56 1701.6,497.6 1703.8,498.62 1706,499.63 1708.22,500.62 1710.44,501.6 1712.67,502.56 1714.91,503.51 1717.16,504.44 1719.41,505.36 1721.68,506.27 1723.95,507.16 1726.23,508.04 1728.52,508.91 1730.82,509.76 1733.13,510.6 1735.44,511.43 1737.77,512.24 1740.1,513.05 1742.44,513.84 1744.79,514.62 1747.14,515.39 1749.51,516.15 1751.88,516.9 1754.26,517.63 1756.65,518.36 1759.05,519.07 1761.46,519.78 1763.87,520.47 1766.3,521.15 1768.73,521.83 1771.17,522.49 1773.61,523.14 1776.07,523.79 1778.53,524.42 1781,525.05 1783.48,525.66 1785.97,526.27 1788.46,526.87 1790.97,527.46 1793.48,528.04 1796,528.62 1798.52,529.18 1801.06,529.74 1803.6,530.29 1806.15,530.83 1808.71,531.36 1811.28,531.88 1813.85,532.4 1816.43,532.91 1819.02,533.41 1821.62,533.91 1824.23,534.4 1826.84,534.88 1829.46,535.35 1832.09,535.82 1834.73,536.28 1837.37,536.74 1840.02,537.18 1842.68,537.63 1845.35,538.06 1848.02,538.49 1850.71,538.91 1853.4,539.33 1856.09,539.74 1858.8,540.14 1861.51,540.54 1864.23,540.94 1866.96,541.32 1869.69,541.71 1872.44,542.08 1875.19,542.46 1877.94,542.82 1880.71,543.18 1883.48,543.54 1886.26,543.89 1889.05,544.24 1891.84,544.58 1894.65,544.91 1897.46,545.25 1900.27,545.57 1903.1,545.89 1905.93,546.21 1908.77,546.53 1911.61,546.83 1914.47,547.14 1917.33,547.44 1920.2,547.74 1923.07,548.03 1925.96,548.32 1928.85,548.6 1931.74,548.88 1934.65,549.15 1937.56,549.43 1940.48,549.7 1943.4,549.96 1946.34,550.22 1949.28,550.48 1952.23,550.73 1955.18,550.98 1958.14,551.23 1961.11,551.47 1964.09,551.71 1967.07,551.95 1970.06,552.18 1973.06,552.41 1976.06,552.64 1979.07,552.86 1982.09,553.08 1985.12,553.3 1988.15,553.52"/>
<polyline stroke="#E03127" stroke-width="3" points="1494.8,22 1495.24,31.5 1495.69,40.83 1496.13,50.01 1496.57,59.02 1497.01,67.88 1497.46,76.58 1497.9,85.14 1498.34,93.54 1498.78,101.8 1499.23,109.91 1499.67,117.89 1500.11,125.72 1500.56,133.42 1501,140.99 1501.44,148.43 1501.88,155.73 1502.33,162.91 1502.77,169.97 1503.21,176.9 1503.65,183.71 1504.1,190.41 1504.54,196.99 1504.98,203.45 1505.43,209.8 1505.87,216.04 1506.31,222.18 1506.75,228.2 1507.2,234.13 1507.64,239.95 1508.08,245.66 1508.53,251.28 1508.97,256.81 1509.41,262.23 1509.85,267.56 1510.3,272.8 1510.74,277.95 1511.18,283.01 1511.62,287.98 1512.07,292.87 1512.51,297.67 1512.95,302.39 1513.4,307.02 1513.84,311.58 1514.28,316.05 1514.72,320.45 1515.17,324.77 1515.61,329.02 1516.05,333.2 1516.49,337.3 1516.94,341.33 1517.38,345.29 1517.82,349.18 1518.27,353 1518.71,356.76 1519.15,360.45 1519.59,364.08 1520.04,367.64 1520.48,371.15 1520.92,374.59 1521.37,377.97 1523.68,394.73 1529.79,432.25 1535.03,457.93 1540.23,478.67 1544.51,492.85 1554.99,518.87 1567.17,538.26 1579.31,550.2 1594.12,558.79 1614.11,564.7 1630.66,567.05 1654.11,569.6 1684.55,569.6 1741.47,569.6 1836.35,569.6 1988.15,569.6"/>
<polyline stroke="#0A6515" stroke-width="3" points="1494.8,22 1495.24,36.25 1495.69,50.24 1496.13,63.99 1496.57,77.48 1497.01,90.71 1497.46,103.7 1497.9,116.43 1498.34,128.9 1498.78,141.13 1499.23,153.1 1499.67,164.83 1500.11,176.31 1500.56,187.54 1501,198.53 1501.44,209.28 1501.88,219.79 1502.33,230.06 1502.77,240.1 1503.21,249.9 1503.65,259.47 1504.1,268.82 1504.54,277.94 1504.98,286.84 1505.43,295.52 1505.87,303.99 1506.31,312.24 1506.75,320.29 1507.2,328.12 1507.64,335.76 1508.08,343.2 1508.53,350.44 1508.97,357.49 1509.41,364.35 1509.85,371.03 1510.3,377.52 1510.74,383.83 1511.18,389.97 1511.62,395.94 1512.07,401.74 1512.51,407.37 1512.95,412.84 1513.4,418.16 1513.84,423.32 1514.28,428.32 1514.72,433.18 1515.17,437.9 1515.61,442.48 1516.05,446.91 1516.49,451.21 1516.94,455.38 1517.38,459.43 1517.82,463.34 1518.27,467.14 1518.71,470.81 1519.15,474.37 1519.59,477.82 1520.04,481.15 1520.48,484.38 1520.92,487.5 1521.37,490.53 1523.68,504.77 1529.79,532 1535.03,546.56 1540.23,555.7 1544.51,560.57 1554.99,566.61 1567.17,569.6 1579.31,569.6 1594.12,569.6 1614.11,569.6 1630.66,569.6 1654.11,569.6 1684.55,569.6 1741.47,569.6 1836.35,569.6 1988.15,569.6"/>
<polyline stroke="#3B2A94" stroke-width="3" points="1494.8,22 1495.24,41 1495.69,59.65 1496.13,77.94 1496.57,95.87 1497.01,113.42 1497.46,130.59 1497.9,147.37 1498.34,163.77 1498.78,179.76 1499.23,195.35 1499.67,210.54 1500.11,225.32 1500.56,239.7 1501,253.67 1501.44,267.23 1501.88,280.39 1502.33,293.15 1502.77,305.5 1503.21,317.46 1503.65,329.02 1504.1,340.2 1504.54,350.98 1504.98,361.39 1505.43,371.43 1505.87,381.09 1506.31,390.4 1506.75,399.35 1507.2,407.95 1507.64,416.21 1508.08,424.14 1508.53,431.74 1508.97,439.03 1509.41,446 1509.85,452.68 1510.3,459.06 1510.74,465.16 1511.18,470.98 1511.62,476.53 1512.07,481.83 1512.51,486.87 1512.95,491.68 1513.4,496.24 1513.84,500.59 1514.28,504.71 1514.72,508.63 1515.17,512.34 1515.61,515.87 1516.05,519.2 1516.49,522.36 1516.94,525.35 1517.38,528.17 1517.82,530.84 1518.27,533.36 1518.71,535.73 1519.15,537.97 1519.59,540.08 1520.04,542.06 1520.48,543.93 1520.92,545.69 1521.37,547.33 1523.68,554.43 1529.79,564.51 1535.03,567.78 1540.23,569.6 1544.51,569.6 1554.99,569.6 1567.17,569.6 1579.31,569.6 1594.12,569.6 1614.11,569.6 1630.66,569.6 1654.11,569.6 1684.55,569.6 1741.47,569.6 1836.35,569.6 1988.15,569.6"/>
<rect x="1874.4" y="21.7" width="119.5" height="146.6" fill="#fff" stroke="#000" stroke-width="1.5"/>
</g>
<rect x="1892.4" y="44.6" width="14.2" height="14.2" rx="0.8" fill="#000000" stroke="#000" stroke-width="1.5"/>
<text y="63.4" font-size="25.2"><tspan x="1924.18" font-family="'Liberation Serif', 'DejaVu Serif', serif" font-size="25.4">α </tspan><tspan x="1940.62" textLength="18.68" lengthAdjust="spacingAndGlyphs">= </tspan><tspan x="1957.08" textLength="28.37" lengthAdjust="spacingAndGlyphs">0.5</tspan></text>
<rect x="1892.4" y="73.9" width="14.2" height="14.2" rx="0.8" fill="#E03127" stroke="#000" stroke-width="1.5"/>
<text y="92.7" font-size="25.2"><tspan x="1924.18" font-family="'Liberation Serif', 'DejaVu Serif', serif" font-size="25.4">α </tspan><tspan x="1940.62" textLength="18.68" lengthAdjust="spacingAndGlyphs">= </tspan><tspan x="1957.08" textLength="11.35" lengthAdjust="spacingAndGlyphs">1</tspan></text>
<rect x="1892.4" y="103.2" width="14.2" height="14.2" rx="0.8" fill="#0A6515" stroke="#000" stroke-width="1.5"/>
<text y="122" font-size="25.2"><tspan x="1924.18" font-family="'Liberation Serif', 'DejaVu Serif', serif" font-size="25.4">α </tspan><tspan x="1940.62" textLength="18.68" lengthAdjust="spacingAndGlyphs">= </tspan><tspan x="1957.08" textLength="28.37" lengthAdjust="spacingAndGlyphs">1.5</tspan></text>
<rect x="1892.4" y="132.5" width="14.2" height="14.2" rx="0.8" fill="#3B2A94" stroke="#000" stroke-width="1.5"/>
<text y="151.3" font-size="25.2"><tspan x="1924.18" font-family="'Liberation Serif', 'DejaVu Serif', serif" font-size="25.4">α </tspan><tspan x="1940.62" textLength="18.68" lengthAdjust="spacingAndGlyphs">= </tspan><tspan x="1957.08" textLength="11.35" lengthAdjust="spacingAndGlyphs">2</tspan></text>
<rect x="1475.3" y="0.45" width="532.1" height="575.25" fill="none" stroke="#000" stroke-width="1.7"/>
<path d="M1494.8 575.7v14.6M1570.7 575.7v14.6M1646.6 575.7v14.6M1722.5 575.7v14.6M1798.4 575.7v14.6M1874.3 575.7v14.6M1950.2 575.7v14.6M1475.3 569.6h-11.6M1475.3 460.08h-11.6M1475.3 350.56h-11.6M1475.3 241.04h-11.6M1475.3 131.52h-11.6M1475.3 22h-11.6" fill="none" stroke="#000" stroke-width="1.5"/>
<text transform="translate(1494.8 629.2) scale(0.8200 1)" font-size="25.2" text-anchor="middle">0</text>
<text transform="translate(1570.7 629.2) scale(0.8200 1)" font-size="25.2" text-anchor="middle">2</text>
<text transform="translate(1646.6 629.2) scale(0.8200 1)" font-size="25.2" text-anchor="middle">4</text>
<text transform="translate(1722.5 629.2) scale(0.8200 1)" font-size="25.2" text-anchor="middle">6</text>
<text transform="translate(1798.4 629.2) scale(0.8200 1)" font-size="25.2" text-anchor="middle">8</text>
<text transform="translate(1874.3 629.2) scale(0.8200 1)" font-size="25.2" text-anchor="middle">10</text>
<text transform="translate(1950.2 629.2) scale(0.8200 1)" font-size="25.2" text-anchor="middle">12</text>
<text transform="translate(1449.2 571.7) rotate(-90) scale(0.8800 1)" font-size="25.4" text-anchor="middle">0.0</text>
<text transform="translate(1449.2 462.18) rotate(-90) scale(0.8800 1)" font-size="25.4" text-anchor="middle">0.2</text>
<text transform="translate(1449.2 352.66) rotate(-90) scale(0.8800 1)" font-size="25.4" text-anchor="middle">0.4</text>
<text transform="translate(1449.2 243.14) rotate(-90) scale(0.8800 1)" font-size="25.4" text-anchor="middle">0.6</text>
<text transform="translate(1449.2 133.62) rotate(-90) scale(0.8800 1)" font-size="25.4" text-anchor="middle">0.8</text>
<text transform="translate(1449.2 24.1) rotate(-90) scale(0.8800 1)" font-size="25.4" text-anchor="middle">1.0</text>
<text transform="translate(1742.6 689.3) scale(0.7800 1)" font-size="26" text-anchor="middle">t</text>
<text transform="translate(1397.2 309.8) rotate(-90)"><tspan x="-1.71" y="0" font-size="24" textLength="15.42" lengthAdjust="spacingAndGlyphs">R</tspan><tspan x="15.44" y="1.5" font-size="26">(</tspan><tspan x="26.61" y="0" font-size="24.5" textLength="5.45" lengthAdjust="spacingAndGlyphs">t</tspan><tspan x="32.54" y="1.5" font-size="26">)</tspan></text>
</g>
</svg></body></html>
